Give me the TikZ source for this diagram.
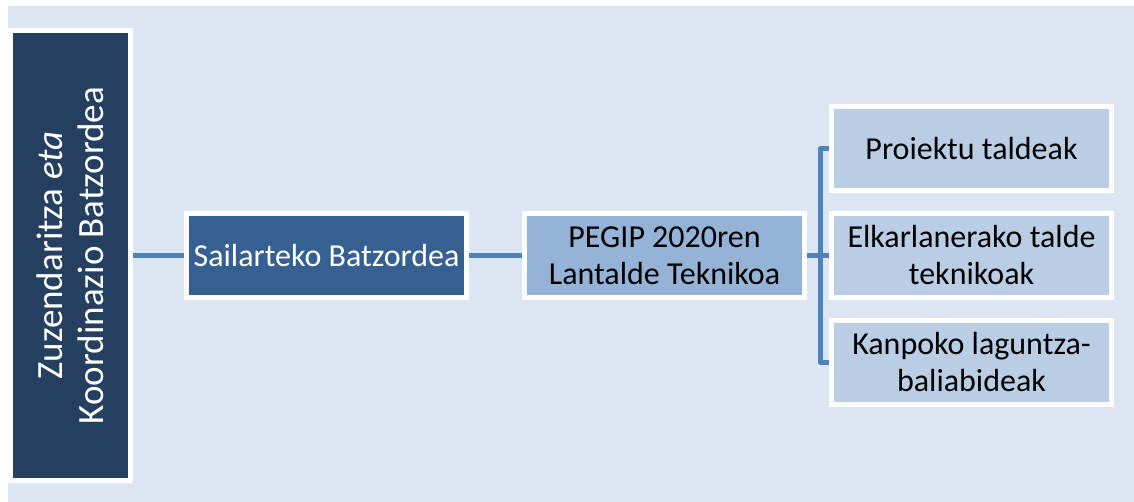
\documentclass[tikz,border=0pt]{standalone}
\usepackage{fontspec}
\setmainfont{Carlito}
\usetikzlibrary{backgrounds}

\definecolor{bgblue}{HTML}{DCE6F2}
\definecolor{navy}{HTML}{243F60}
\definecolor{midblue}{HTML}{366092}
\definecolor{paleblue}{HTML}{95B3D7}
\definecolor{lightblue}{HTML}{B9CDE5}
\definecolor{linkblue}{HTML}{4F81BD}

\tikzset{
  box/.style={draw=white, line width=5pt, inner sep=0pt, minimum width=280pt,
    minimum height=84pt, align=center, font=\fontsize{32}{37}\selectfont},
  link/.style={draw=linkblue, line width=4.5pt, line join=round},
}

\begin{document}
\begin{tikzpicture}[x=1pt,y=-1pt]
\useasboundingbox (0,0) rectangle (1134,502);
\node[box, fill=navy, text=white, rotate=90, minimum width=450pt, minimum height=120pt,
  font=\fontsize{37}{41}\selectfont] (zuz) at (70.5,255.5)
  {Zuzendaritza \textit{eta}\\Koordinazio Batzordea};
\node[box, fill=midblue, text=white] (sail) at (326.5,255.5) {Sailarteko Batzordea};
\node[box, fill=paleblue] (pegip) at (664.5,255.5) {PEGIP 2020ren\\Lantalde Teknikoa};
\node[box, fill=lightblue] (proi) at (971.5,148.5) {Proiektu taldeak};
\node[box, fill=lightblue] (elkar) at (971.5,255.5) {Elkarlanerako talde\\teknikoak};
\node[box, fill=lightblue] (kanp) at (971.5,362.5) {Kanpoko laguntza-\\baliabideak};
\begin{scope}[on background layer]
\fill[white] (0,0) rectangle (1134,502);
\fill[bgblue] (8,6) rectangle (1134,502);
\draw[link] (zuz.south) -- (sail.west);
\draw[link] (sail.east) -- (pegip.west);
\draw[link] (pegip.east) -- ++(13.5,0) |- (proi.west);
\draw[link] (pegip.east) -- ++(13.5,0) |- (elkar.west);
\draw[link] (pegip.east) -- ++(13.5,0) |- (kanp.west);
\end{scope}
\end{tikzpicture}
\end{document}
